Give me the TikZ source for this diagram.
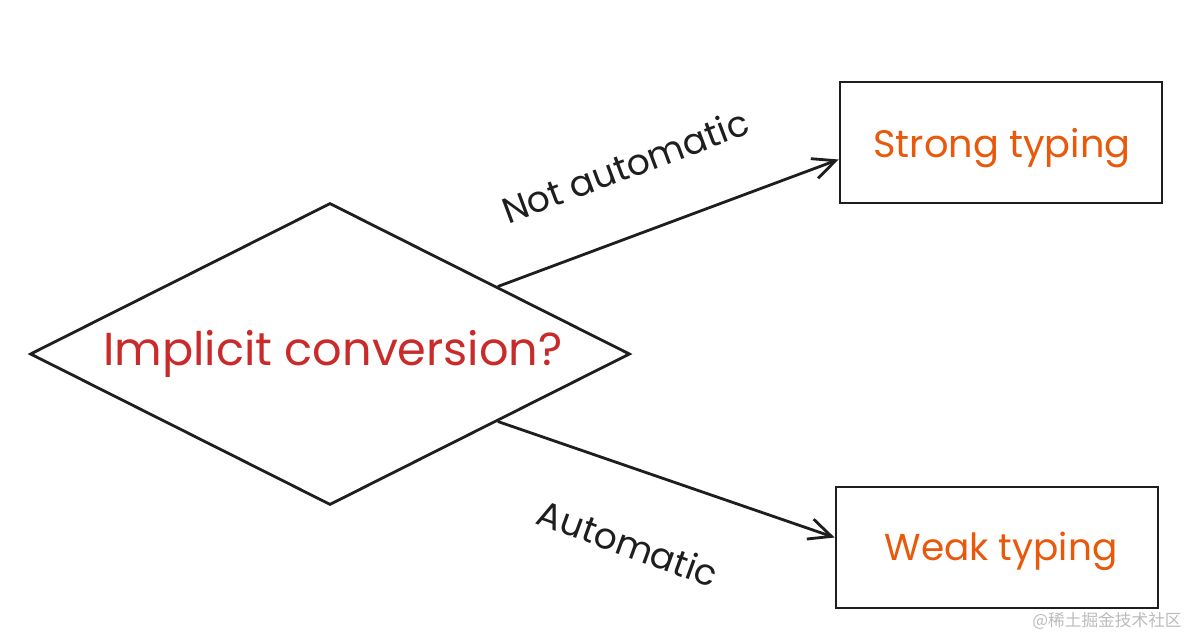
\documentclass[tikz,border=0pt]{standalone}
\usepackage{fontspec}
\setmainfont{Poppins}
\newfontfamily\cjk{Noto Sans CJK SC}
\usetikzlibrary{shapes.geometric,arrows.meta,calc}
\definecolor{ink}{HTML}{1E1E1E}
\definecolor{redtxt}{HTML}{C92A2A}
\definecolor{orangetxt}{HTML}{E8590C}
\definecolor{wm}{HTML}{BBBBBB}
\begin{document}
\begin{tikzpicture}[x=0.02cm,y=-0.02cm,
  stroke/.style={draw=ink,line width=1.6pt},
  decision/.style={stroke,diamond,shape aspect=2,minimum width=12cm,minimum height=6.04cm,inner sep=0pt},
  resultbox/.style={stroke,rectangle,minimum width=6.44cm,minimum height=2.42cm,inner sep=0pt},
  conn/.style={draw=ink,line width=1.6pt,-{Straight Barb[length=0.45cm,width=0.42cm,line width=1.6pt]}},
  edgelabel/.style={font=\fontsize{20.5}{24}\selectfont,text=ink,inner sep=0pt}]
\useasboundingbox (0,0) rectangle (1200,635);
\node[decision] (dia) at (330,354) {};
\node[text=redtxt,font=\fontsize{26.3}{30}\selectfont] (q) at (333,354) {Implicit conversion?};
\node[resultbox] (strong) at (1001,142.5) {};
\node[text=orangetxt,font=\fontsize{21.8}{25}\selectfont] (st) at (1002,148) {Strong typing};
\node[resultbox] (weak) at (997,547.5) {};
\node[text=orangetxt,font=\fontsize{21.3}{25}\selectfont] (wt) at (1001,551) {Weak typing};
\coordinate (s1) at ($(dia.north)!0.557!(dia.east)$);
\coordinate (s2) at ($(dia.south)!0.557!(dia.east)$);
\coordinate (e1) at ($(strong.west)+(0,17)$);
\coordinate (e2) at ($(weak.west)+(0,-10)$);
\draw[conn] (s1) -- (e1);
\draw[conn] (s2) -- (e2);
\node[edgelabel,rotate=20.5] (l1) at (625,166) {Not automatic};
\node[edgelabel,rotate=-20] (l2) at (628,543) {Automatic};
\node[text=wm,font=\cjk\fontsize{9.5}{11}\selectfont,anchor=east,inner sep=0pt] (wmk) at (1182,621) {@稀土掘金技术社区};
\end{tikzpicture}
\end{document}
